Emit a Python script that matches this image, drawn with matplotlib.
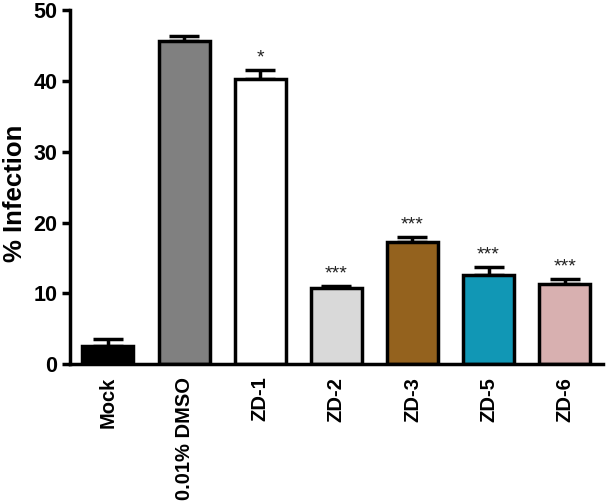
import numpy as np
import matplotlib
matplotlib.use('Agg')
import matplotlib.pyplot as plt

plt.rcParams['font.family'] = ['Liberation Sans', 'DejaVu Sans']

labels = ['Mock', '0.01% DMSO', 'ZD-1', 'ZD-2', 'ZD-3', 'ZD-5', 'ZD-6']
values = [2.5, 45.7, 40.3, 10.7, 17.3, 12.6, 11.3]
errors = [1.1, 0.6, 1.2, 0.3, 0.7, 1.1, 0.7]
stars = ['', '', '*', '***', '***', '***', '***']
colors = ['#000000', '#808080', '#ffffff', '#d9d9d9', '#94621e', '#1197b5', '#d8b0b0']

fig = plt.figure(figsize=(6.07, 5.03), dpi=100)
ax = fig.add_axes([0.115, 0.276, 0.878, 0.704])

x = np.arange(len(labels))
ax.bar(x, values, width=0.67, color=colors, edgecolor='black', linewidth=2.5, zorder=2)
ax.errorbar(x, values, yerr=[np.zeros(len(errors)), errors], fmt='none',
            ecolor='black', elinewidth=2.5, capsize=11, capthick=2.5, zorder=1)

for xi, v, e, s in zip(x, values, errors, stars):
    if s:
        ax.text(xi, v + e + 0.5, s, ha='center', va='bottom', fontsize=14, color='#222222')

ax.set_xlim(-0.5, 6.5)
ax.set_ylim(0, 50)
ax.set_yticks([0, 10, 20, 30, 40, 50])
ax.set_xticks(x)
ax.set_xticklabels(labels, rotation=90, fontsize=14.5, fontweight='bold')
ax.tick_params(axis='y', labelsize=15.5, width=2.5, length=6, direction='out', pad=3)
ax.tick_params(axis='x', length=0, pad=9)
for lbl in ax.get_yticklabels():
    lbl.set_fontweight('bold')
fig.text(0.025, 0.615, '% Infection', rotation=90, ha='center', va='center',
         fontsize=18.5, fontweight='bold')

ax.spines['right'].set_visible(False)
ax.spines['top'].set_visible(False)
ax.spines['left'].set_linewidth(2.5)
ax.spines['bottom'].set_linewidth(2.5)

fig.savefig('out.png', dpi=100)
